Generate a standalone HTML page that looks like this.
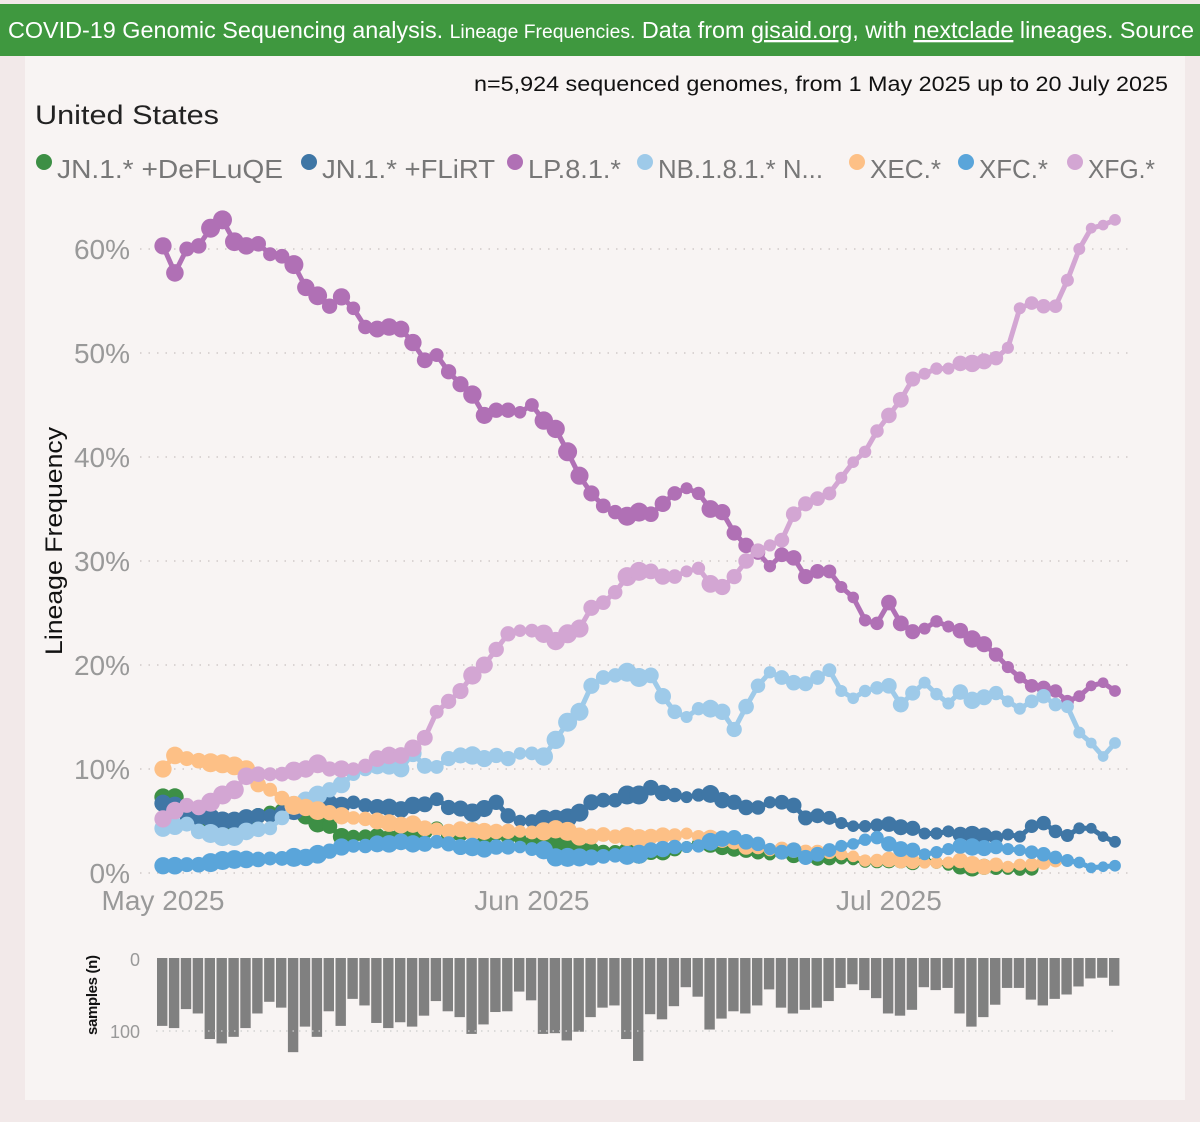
<!DOCTYPE html>
<html><head><meta charset="utf-8">
<style>
html,body{margin:0;padding:0;background:#f2e9e9;}
svg{display:block;font-family:"Liberation Sans",sans-serif;}
</style></head>
<body>
<svg id="chart" width="1200" height="1122" viewBox="0 0 1200 1122" xmlns="http://www.w3.org/2000/svg">
<rect x="0" y="0" width="1200" height="1122" fill="#f2e9e9"/>
<rect x="0" y="4" width="1200" height="52" fill="#3f983f"/>
<text x="8" y="38" fill="#fff" font-size="23" textLength="1186" lengthAdjust="spacingAndGlyphs">COVID-19 Genomic Sequencing analysis. <tspan font-size="19">Lineage Frequencies.</tspan> Data from <tspan text-decoration="underline">gisaid.org</tspan>, with <tspan text-decoration="underline">nextclade</tspan> lineages. Source</text>
<rect x="25" y="56" width="1160" height="1044" fill="#f8f4f3"/>
<text x="1168" y="91" text-anchor="end" font-size="21" fill="#111" textLength="694" lengthAdjust="spacingAndGlyphs">n=5,924 sequenced genomes, from 1 May 2025 up to 20 July 2025</text>
<text x="35" y="124" font-size="27" fill="#222" textLength="184" lengthAdjust="spacingAndGlyphs">United States</text>
<g id="legend"></g>
<g id="grid"></g>
<g id="series"></g>
<g id="bars"></g>
<text transform="translate(62,541) rotate(-90)" text-anchor="middle" font-size="24" fill="#111" textLength="228" lengthAdjust="spacingAndGlyphs">Lineage Frequency</text>
<text transform="translate(97,995) rotate(-90)" text-anchor="middle" font-size="15" font-weight="bold" fill="#111" textLength="80" lengthAdjust="spacing">samples (n)</text>
</svg>
<script>
const seriesNames = ["JN.1.* +DeFLuQE","JN.1.* +FLiRT","LP.8.1.*","NB.1.8.1.* N...","XEC.*","XFC.*","XFG.*"];
const seriesColors = ["#3d8f45","#3f76a5","#b070b5","#9ecae9","#fdc086","#5aa5da","#d3a6d3"];
const yTicks = [0,10,20,30,40,50,60];
const xTickLabels = ["May 2025","Jun 2025","Jul 2025"];
const xTickDays = [0,31,61];
const samples = [93,96,70,76,111,117,108,96,76,60,68,129,94,108,73,93,56,65,89,96,88,94,79,59,73,81,104,91,74,73,46,58,104,103,113,101,81,68,65,111,141,77,84,66,40,53,98,83,73,76,65,43,68,76,71,68,59,41,36,44,55,76,79,71,40,44,41,76,94,81,64,41,41,57,65,56,50,39,28,27,38];
const jnDeFLuQE = [7.3,7.3,6,5.5,5,4.8,4.8,5,5.5,5.8,6,6.2,5.5,4.8,4.5,3.5,3.5,3.5,3.5,3.3,3.6,3.8,4,4.3,3.5,3.8,4,3.5,3.8,3.5,3.3,3,2.8,2.8,2.5,2.3,2.2,2,2,2,1.8,2,2,2.3,2.5,2.8,2.8,2.5,2.3,2.2,2,1.8,2,1.7,1.6,1.4,1.4,1.4,1.3,1.1,1.1,1.2,1.2,1,1.2,1,0.8,0.6,0.5,0.6,0.5,0.4,0.3,0.4,null,null,null,null,null,null,null];
const jnFLiRT = [6.7,6.5,5.5,5.3,5.3,5,5,5.3,5.5,5.5,5.8,6,6.5,7.2,6.8,6.5,6.8,6.5,6.3,6.3,6.1,6.5,6.6,7.1,6.3,6.2,5.8,6.2,6.8,5.5,5,5,5.2,5.2,5.3,5.8,6.8,7,7,7.5,7.5,8.2,7.7,7.5,7.3,7.5,7.6,7,6.8,6.3,6.3,6.8,6.8,6.5,5.3,5.5,5.3,4.8,4.5,4.5,4.6,4.7,4.4,4.3,3.8,3.8,4,3.7,3.7,3.6,3.4,3.7,3.5,4.5,4.8,4,3.6,4.3,4.3,3.5,3];
const lp81 = [60.3,57.7,60,60.3,62,62.8,60.7,60.3,60.5,59.5,59.3,58.5,56.3,55.5,54.5,55.4,54.3,52.5,52.3,52.5,52.3,51,49.3,49.8,48.2,47,46,44,44.5,44.5,44.3,45,43.5,42.7,40.5,38.2,36.5,35.3,34.7,34.3,34.7,34.5,35.5,36.5,37,36.5,35,34.7,32.7,31.5,30.8,29.5,30.6,30.3,28.5,29,29,27.5,26.5,24.3,24,26,24,23.2,23.5,24.2,23.7,23.3,22.5,22,21,19.8,18.8,18,17.8,17.5,16.5,17,18,18.3,17.5];
const nb181 = [4.3,4.5,4.7,4,3.8,3.5,3.5,4,4.2,4.3,5.3,6.5,7,7.5,8,8.5,9.5,10,10.3,10.3,10,11.5,10.3,10.2,11,11.3,11.3,11,11.3,11,11.5,11.5,11.2,12.8,14.5,15.5,18,18.8,19,19.3,18.8,19,17,15.5,15,15.8,15.8,15.5,13.8,16,18,19.3,18.8,18.3,18.2,18.8,19.5,17.5,16.8,17.5,17.8,18,16.2,17.3,18.3,17.2,16.3,17.4,16.6,16.9,17.3,16.5,15.8,16.5,17,16.2,16,13.5,12.5,11.2,12.5];
const xec = [10,11.3,11,10.8,10.6,10.5,10.3,10,8.5,8,7.2,6.5,6.3,6,5.8,5.5,5.3,5.2,5,4.8,4.6,4.7,4.3,4.2,4,4.2,4,4,4,4,4,3.9,4,4.2,4,3.5,3.5,3.7,3.5,3.5,3.3,3.5,3.6,3.6,3.8,3.5,3.3,3.2,3,2.5,2.5,2.2,2.3,2.2,2,2,2,1.8,1.6,1.2,1.2,1.3,1.2,1.1,1,1,1,1.2,0.8,0.6,0.8,0.6,0.8,0.8,1,1.2,null,null,null,null,null];
const xfc = [0.7,0.7,0.8,0.8,1,1.2,1.3,1.3,1.3,1.4,1.4,1.5,1.5,1.8,2.1,2.5,2.6,2.6,2.8,2.8,3,2.8,2.8,3,2.8,2.5,2.5,2.3,2.5,2.5,2.5,2.3,2.2,1.5,1.5,1.5,1.5,1.6,1.7,1.7,1.8,2.2,2.3,2.5,2.5,2.6,3,3.3,3.4,3,2.8,2.3,2,2.2,1.5,1.8,2.2,2.6,2.8,3.2,3.4,2.8,2.3,2.2,1.8,2,2.3,2.6,2.5,2.4,2.5,2.3,2.2,2,1.8,1.5,1.2,1,0.5,0.6,0.7];
const xfg = [5.2,6,6.5,6.3,6.8,7.5,8,9.3,9.5,9.5,9.5,9.8,10,10.5,10,10,10,10.3,11,11.3,11.3,12,13,15.5,16.5,17.5,19,20,21.5,23,23.3,23.3,23,22.3,23,23.5,25.5,26,27,28.5,29,29,28.5,28.5,29,29.3,27.8,27.5,28.5,30,31,31.5,32,34.5,35.5,36,36.5,38,39.5,40.5,42.5,44,45.5,47.5,48,48.5,48.5,49,49,49.2,49.5,50.5,54.3,54.8,54.5,54.5,57,60,62,62.3,62.8];
const seriesData = [jnDeFLuQE,jnFLiRT,lp81,nb181,xec,xfc,xfg];

const NS = "http://www.w3.org/2000/svg";
function mk(tag, attrs, parent){const e=document.createElementNS(NS,tag);for(const k in attrs)e.setAttribute(k,attrs[k]);parent.appendChild(e);return e;}
const xScale = d => 163 + d*11.9;
const yScale = v => 873 - v*10.4;
const bScale = n => n*0.73;

const legend = document.getElementById('legend');
const legX = [44,309,515,645,857,966,1075];
const legW = [226,173,93,165,71,69,67];
seriesNames.forEach((n,i)=>{
  const c = mk('circle',{cx:legX[i],cy:162,r:8,fill:seriesColors[i]},legend);
  
  
  const t = mk('text',{x:legX[i]+13,y:178,'font-size':26,fill:'#777',textLength:legW[i],lengthAdjust:'spacingAndGlyphs'},legend);
  t.textContent = n;
  
  
});

const grid = document.getElementById('grid');
yTicks.forEach(v=>{
  const l = mk('line',{x1:140,x2:1128,y1:yScale(v),y2:yScale(v),stroke:'#c8c0c0','stroke-width':1.2,'stroke-dasharray':'1.5 7'},grid);
  
  
  const t = mk('text',{x:130,y:yScale(v)+10,'text-anchor':'end','font-size':28,fill:'#999'},grid);
  t.textContent = v+'%';
  
  
});
xTickLabels.forEach((lab,i)=>{
  const t = mk('text',{x:xScale(xTickDays[i]),y:910,'text-anchor':'middle','font-size':28,fill:'#999'},grid);
  t.textContent = lab;
  
  
});

const sg = document.getElementById('series');
seriesData.forEach((arr,si)=>{
  const g = mk('g',{},sg);
  
  
  let d='';
  arr.forEach((v,i)=>{ if(v==null) return; d += (d===''?'M':'L')+xScale(i)+' '+yScale(v)+' '; });
  const p = mk('path',{d:d,fill:'none',stroke:seriesColors[si],'stroke-width':5,'stroke-linejoin':'round'},g);
  
  
  arr.forEach((v,i)=>{
    if(v==null) return;
    const r = Math.max(4.5, Math.min(9.5, 4 + samples[i]/20));
    const c = mk('circle',{cx:xScale(i),cy:yScale(v),r:r,fill:seriesColors[si]},g);
    
    
  });
});

const bg = document.getElementById('bars');
const b0 = 958;
const zl = mk('text',{x:140,y:966,'text-anchor':'end','font-size':18,fill:'#999'},bg);
zl.textContent='0';


const hl = mk('text',{x:140,y:1038,'text-anchor':'end','font-size':18,fill:'#999'},bg);
hl.textContent='100';


samples.forEach((n,i)=>{
  const r = mk('rect',{x:xScale(i)-6,y:b0,width:10.4,height:bScale(n),fill:'#808080'},bg);
  
  
});
const gl = mk('line',{x1:156,x2:1118,y1:b0+bScale(100),y2:b0+bScale(100),stroke:'#ccc','stroke-width':1.2,'stroke-dasharray':'1.5 5'},bg);


</script>
</body></html>
